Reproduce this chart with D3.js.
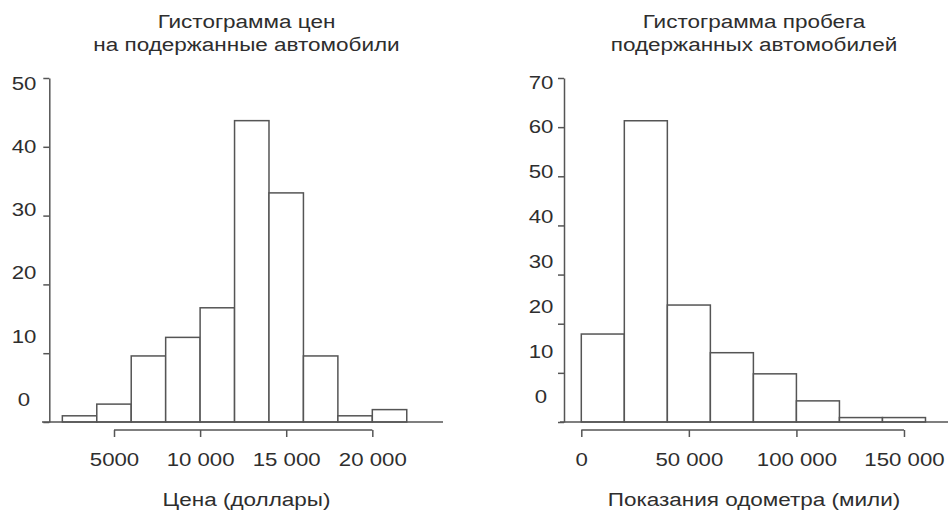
<!DOCTYPE html>
<html><head><meta charset="utf-8">
<script src="https://cdn.jsdelivr.net/npm/d3@7"></script>
<style>
body{margin:0;background:#fff;}
svg{display:block;}
text{font-family:"Liberation Sans",Arial,sans-serif;fill:#2e2e2e;}
</style></head><body>
<svg id="c" width="948" height="512"></svg>
<script>
// ---- data ----
const priceBins = [2000,4000,6000,8000,10000,12000,14000,16000,18000,20000,22000];
const priceCounts = [0.9,2.6,9.6,12.3,16.6,43.8,33.3,9.6,0.9,1.8];
const priceTicks = [5000,10000,15000,20000];
const priceTickLabels = ["5000","10 000","15 000","20 000"];
const priceYTicks = [0,10,20,30,40,50];

const mileBins = [0,20000,40000,60000,80000,100000,120000,140000,160000];
const mileCounts = [17.9,61.3,23.8,14.1,9.8,4.3,0.9,0.9];
const mileTicks = [0,50000,100000,150000];
const mileTickLabels = ["0","50 000","100 000","150 000"];
const mileYTicks = [0,10,20,30,40,50,60,70];

const titles = [["Гистограмма цен","на подержанные автомобили"],["Гистограмма пробега","подержанных автомобилей"]];
const xTitles = ["Цена (доллары)","Показания одометра (мили)"];

const FS = 18, SX = 1.25, TFS = 19, TSX = 1.17, LINE = "#555";
const svg = d3.select("#c");

function panel(cfg){
  const g = svg.append("g");
  const x = d3.scaleLinear().domain(cfg.xDomain).range(cfg.xRange);
  const y = d3.scaleLinear().domain(cfg.yDomain).range([422,78]);
  const yl = d3.scaleLinear().domain(cfg.yDomain).range(cfg.ylRange);
  const bars = cfg.counts.map((c,i)=>({x0:cfg.bins[i],x1:cfg.bins[i+1],c}));
  g.selectAll("rect.bar").data(bars).join("rect").attr("class","bar")
    .attr("x",d=>x(d.x0)).attr("width",d=>x(d.x1)-x(d.x0))
    .attr("y",d=>y(d.c)).attr("height",d=>y(0)-y(d.c))
    .attr("fill","#fff").attr("stroke",LINE).attr("stroke-width",1.5);
  g.append("line").attr("x1",cfg.baseStart).attr("x2",cfg.baseEnd)
    .attr("y1",y(0)).attr("y2",y(0)).attr("stroke",LINE).attr("stroke-width",1.5);
  const ya = g.append("g").attr("transform",`translate(${cfg.yAxisX},0)`)
    .call(d3.axisLeft(y).tickValues(cfg.yTicks).tickSize(6).tickSizeOuter(0).tickFormat(""));
  ya.select(".domain").attr("stroke",LINE).attr("stroke-width",1.5);
  ya.selectAll(".tick line").attr("stroke",LINE).attr("stroke-width",1.5);
  g.selectAll("text.yl").data(cfg.yTicks).join("text").attr("class","yl")
    .attr("transform",d=>`translate(${cfg.ylX},${yl(d)}) scale(${TSX},1)`)
    .attr("text-anchor","middle").attr("dy","0.36em").attr("font-size",TFS).text(d=>d);
  const xa = g.append("g").attr("transform",`translate(0,430)`)
    .call(d3.axisBottom(x).tickValues(cfg.xTicks).tickSize(7).tickSizeOuter(0)
      .tickFormat((d,i)=>cfg.xTickLabels[i]));
  xa.select(".domain").attr("stroke",LINE).attr("stroke-width",1.5)
    .attr("d",`M${x(cfg.xTicks[0])},0H${x(cfg.xTicks[cfg.xTicks.length-1])}`);
  xa.selectAll(".tick line").attr("stroke",LINE).attr("stroke-width",1.5);
  xa.selectAll(".tick text").attr("font-size",TFS).attr("fill","#2e2e2e")
    .attr("font-family","Liberation Sans, Arial, sans-serif")
    .attr("y",0).attr("dy","0.36em").attr("transform",`translate(0,29) scale(${TSX},1)`);
  cfg.title.forEach((t,i)=>{
    g.append("text").attr("transform",`translate(${cfg.cx},${21.7+i*23.3}) scale(${SX},1)`)
      .attr("text-anchor","middle").attr("dy","0.36em").attr("font-size",FS).text(t);
  });
  g.append("text").attr("transform",`translate(${cfg.cx},500) scale(${SX},1)`)
    .attr("text-anchor","middle").attr("dy","0.36em").attr("font-size",FS).text(cfg.xTitle);
}

panel({bins:priceBins,counts:priceCounts,xDomain:[0,24000],xRange:[27.9,441.2],
  yDomain:[0,50],ylRange:[399,83],yTicks:priceYTicks,xTicks:priceTicks,xTickLabels:priceTickLabels,
  yAxisX:49.3,ylX:24,baseStart:42,baseEnd:443,cx:246.5,title:titles[0],xTitle:xTitles[0]});
panel({bins:mileBins,counts:mileCounts,xDomain:[0,170000],xRange:[581.3,947],
  yDomain:[0,70],ylRange:[396,81.7],yTicks:mileYTicks,xTicks:mileTicks,xTickLabels:mileTickLabels,
  yAxisX:564,ylX:541,baseStart:560,baseEnd:948,cx:754,title:titles[1],xTitle:xTitles[1]});
</script></body></html>
